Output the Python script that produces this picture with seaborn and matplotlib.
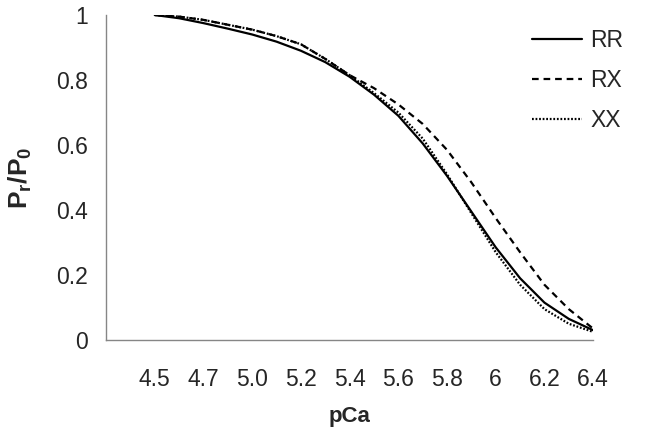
"""
Relative force (Pr/P0) vs pCa for the RR, RX and XX genotypes.
"""

import matplotlib
matplotlib.use("Agg")
import matplotlib.pyplot as plt
import pandas as pd
import seaborn as sns

# Tick labels of the pCa axis (evenly spaced categories on the chart)
pca_labels = ["4.5", "4.7", "5.0", "5.2", "5.4", "5.6", "5.8", "6", "6.2", "6.4"]

# Positions along the axis (in tick units), readings taken every half tick
x_pos = [0, 0.5, 1, 1.5, 2, 2.5, 3, 3.5, 4, 4.5, 5, 5.5, 6, 6.5, 7, 7.5, 8, 8.5, 9]

rr = [1.00, 0.99, 0.975, 0.958, 0.94, 0.918, 0.89, 0.855, 0.81, 0.755, 0.69, 0.605,
      0.505, 0.395, 0.285, 0.19, 0.115, 0.065, 0.03]
rx = [1.00, 0.995, 0.985, 0.97, 0.955, 0.935, 0.91, 0.865, 0.815, 0.775, 0.725,
      0.665, 0.585, 0.485, 0.375, 0.27, 0.17, 0.095, 0.035]
xx = [1.00, 0.995, 0.985, 0.97, 0.955, 0.935, 0.91, 0.865, 0.815, 0.76, 0.70,
      0.62, 0.51, 0.39, 0.27, 0.17, 0.095, 0.05, 0.025]

series = {"RR": rr, "RX": rx, "XX": xx}
dashes = {"RR": "", "RX": (3.0, 2.2), "XX": (0.8, 0.8)}

df = pd.concat(
    [pd.DataFrame({"x": x_pos, "y": vals, "group": name}) for name, vals in series.items()],
    ignore_index=True,
)

sns.set_style("white")
plt.rcParams["font.family"] = ["Liberation Sans", "DejaVu Sans"]
plt.rcParams["mathtext.fontset"] = "custom"
plt.rcParams["mathtext.bf"] = "Liberation Sans:bold"
plt.rcParams["mathtext.rm"] = "Liberation Sans"

fig = plt.figure(figsize=(6.71, 4.41), dpi=100)
ax = fig.add_axes([0.158, 0.229, 0.726, 0.737])

sns.lineplot(
    data=df, x="x", y="y", hue="group", style="group",
    palette={"RR": "black", "RX": "black", "XX": "black"},
    dashes=dashes, linewidth=1.6, ax=ax,
)

ax.set_xlim(-1, 9)
ax.set_ylim(0, 1)
ax.set_xticks(range(len(pca_labels)))
ax.set_xticklabels(pca_labels)
ax.set_yticks([0, 0.2, 0.4, 0.6, 0.8, 1])
ax.set_yticklabels(["0", "0.2", "0.4", "0.6", "0.8", "1"])

for side in ["top", "right"]:
    ax.spines[side].set_visible(False)
for side in ["left", "bottom"]:
    ax.spines[side].set_color("#868686")
    ax.spines[side].set_linewidth(1.0)

ax.tick_params(axis="x", direction="out", length=5, width=1.0, color="#868686",
               labelsize=16.5, pad=15)
ax.tick_params(axis="y", direction="out", length=5, width=1.0, color="#868686",
               labelsize=16.5, pad=8)

ax.set_xlabel("pCa", fontsize=16, fontweight="bold", labelpad=11)
ax.set_ylabel(r"$\mathbf{P_r/P_0}$", fontsize=19, labelpad=16)

leg = ax.legend(
    loc="upper right", bbox_to_anchor=(1.09, 1.0), frameon=False,
    fontsize=16.5, handlelength=2.2, handletextpad=0.35, labelspacing=0.75,
    borderaxespad=0.2,
)
for line in leg.get_lines():
    line.set_linewidth(1.6)

fig.savefig("out.png", dpi=100)
plt.close(fig)
